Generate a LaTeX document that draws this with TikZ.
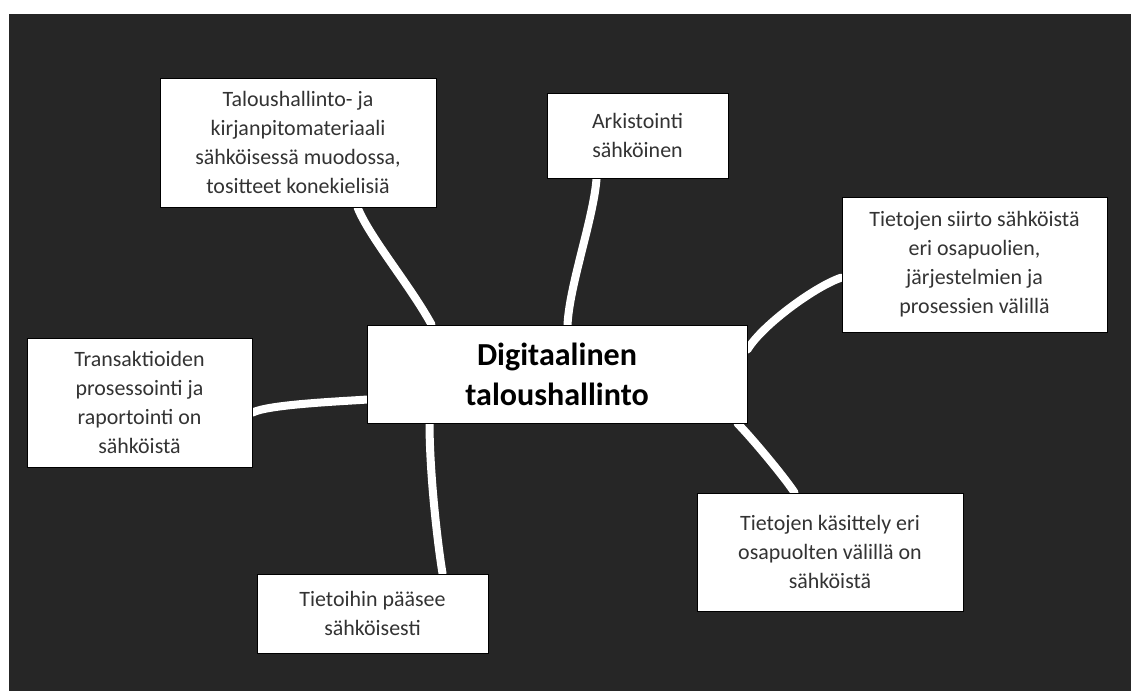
\documentclass[tikz,border=0pt]{standalone}
\usepackage{fontspec}
\setmainfont{Carlito}
\usetikzlibrary{calc}
\usetikzlibrary{backgrounds}
\definecolor{boardgray}{HTML}{262626}

\begin{document}
\begin{tikzpicture}[x=0.025cm, y=-0.025cm,
    idea/.style={rectangle, draw=black, line width=0.6pt, fill=white, align=center, inner sep=0pt, text=black!80, font=\fontsize{15.6}{20.6}\selectfont},
    link/.style={draw=white, line width=5.7pt, line cap=round}]
\useasboundingbox (0,0) rectangle (1131,691);

\draw (557,374) node (Digi) [idea, minimum width=9.5cm, minimum height=2.45cm, text=black, font=\bfseries\fontsize{22.8}{28.5}\selectfont] {Digitaalinen\\taloushallinto};
\draw (298,142.5) node (Aineisto) [idea, minimum width=6.9cm, minimum height=3.225cm] {Taloushallinto- ja\\kirjanpitomateriaali\\sähköisessä muodossa,\\tositteet konekielisiä};
\draw (637.5,135.5) node (Arkisto) [idea, minimum width=4.525cm, minimum height=2.125cm] {Arkistointi\\sähköinen};
\draw (974.5,264.5) node (Siirto) [idea, minimum width=6.625cm, minimum height=3.375cm] {Tietojen siirto sähköistä\\eri osapuolien,\\järjestelmien ja\\prosessien välillä};
\draw (830,552) node (Kasittely) [idea, minimum width=6.65cm, minimum height=2.95cm] {Tietojen käsittely eri\\osapuolten välillä on\\sähköistä};
\draw (372.5,613.5) node (Paasy) [idea, minimum width=5.775cm, minimum height=1.975cm] {Tietoihin pääsee\\sähköisesti};
\draw (139.5,402.5) node (Trans) [idea, minimum width=5.625cm, minimum height=3.225cm] {Transaktioiden\\prosessointi ja\\raportointi on\\sähköistä};

\begin{scope}[on background layer]
\fill[white] (0,0) rectangle (1131,691);
\fill[boardgray] (9,14) rectangle (1131,691);

\draw[link] ($(Aineisto.south west)+(198,0)$) .. controls +(12,30) and +(-22,-40) .. ($(Digi.north west)+(65,0)$);
\draw[link] ($(Arkisto.south west)+(50,0)$) .. controls +(-3,40) and +(2,-40) .. ($(Digi.north west)+(201,0)$);
\draw[link] ($(Siirto.north west)+(0,81)$) .. controls +(-25,8) and +(15,-25) .. ($(Digi.north east)+(0,25)$);
\draw[link] ($(Digi.south east)+(-10,0)$) .. controls +(12,12) and +(-12,-18) .. ($(Kasittely.north west)+(98,0)$);
\draw[link] ($(Digi.south west)+(63,0)$) .. controls +(0,50) and +(-5,-30) .. ($(Paasy.north west)+(186,0)$);
\draw[link] ($(Trans.north east)+(0,75)$) .. controls +(16,-8) and +(-30,2) .. ($(Digi.north west)+(0,75)$);
\end{scope}

\end{tikzpicture}
\end{document}
